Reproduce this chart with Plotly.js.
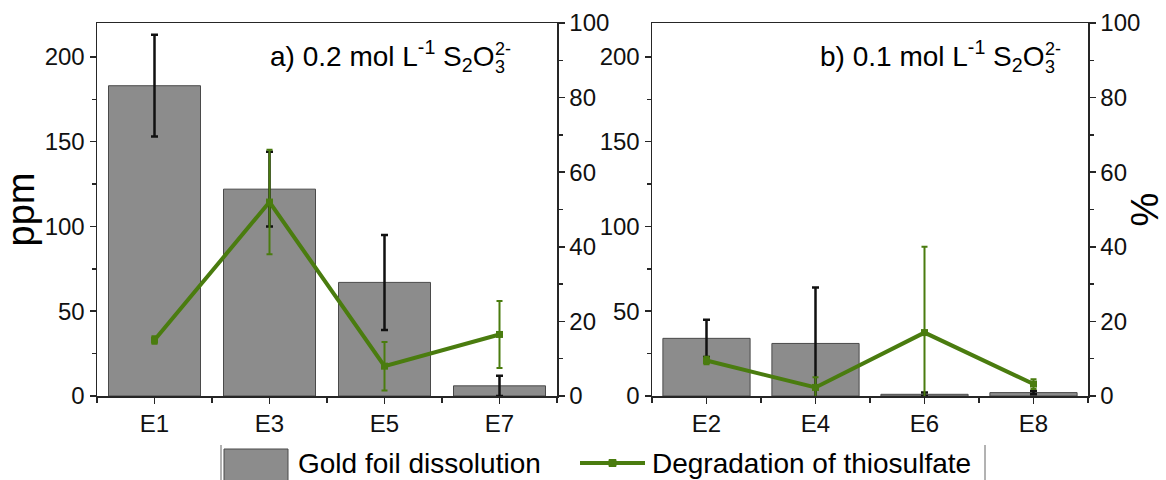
<!DOCTYPE html>
<html>
<head>
<meta charset="utf-8">
<script src="https://cdn.plot.ly/plotly-3.0.1.min.js"></script>
<style>
  html, body { margin: 0; padding: 0; background: #fff; }
  #chart { width: 1166px; height: 480px; }
</style>
</head>
<body>
<div id="chart"></div>
<script>
// Panel a) 0.2 mol/L thiosulfate
const leftCats = ['E1', 'E3', 'E5', 'E7'];
const leftGold = [183, 122, 67, 6];          // ppm
const leftGoldErr = [30, 22, 28, 6];
const leftDeg = [15, 52, 8, 16.5];           // %
const leftDegErr = [1, 14, 6.5, 9];

// Panel b) 0.1 mol/L thiosulfate
const rightCats = ['E2', 'E4', 'E6', 'E8'];
const rightGold = [34, 31, 1, 2];
const rightGoldErr = [11, 33, 1, 1];
const rightDeg = [9.5, 2.3, 17, 3.2];
const rightDegErr = [1, 2.7, 23, 1.3];

const ppmTicks = [0, 50, 100, 150, 200];
const pctTicks = [0, 20, 40, 60, 80, 100];

const W = 1166, H = 480;
const px = v => v / W;
const py = v => 1 - v / H;

const GRAY = '#8c8c8c';
const GREEN = '#4a7c0f';
const AXIS = '#262626';
const FONT = 'Liberation Sans, Arial, sans-serif';

const idx = cats => cats.map((c, i) => i);

function goldTrace(cats, vals, errs, xa, ya) {
  return {
    type: 'bar', x: idx(cats), y: vals, xaxis: xa, yaxis: ya,
    width: 0.8, name: 'Gold foil dissolution', showlegend: false,
    marker: { color: GRAY, line: { color: '#4a4a4a', width: 1 } },
    error_y: { type: 'data', array: errs, visible: true, color: '#111', thickness: 2.5, width: 3.5 },
    hoverinfo: 'y'
  };
}
function degTrace(cats, vals, errs, xa, ya) {
  return {
    type: 'scatter', mode: 'lines+markers', x: idx(cats), y: vals, xaxis: xa, yaxis: ya,
    name: 'Degradation of thiosulfate', showlegend: false, cliponaxis: true,
    line: { color: GREEN, width: 4 },
    marker: { symbol: 'square', size: 7, color: GREEN },
    error_y: { type: 'data', array: errs, visible: true, color: GREEN, thickness: 2, width: 3 },
    hoverinfo: 'y'
  };
}

const data = [
  goldTrace(leftCats, leftGold, leftGoldErr, 'x', 'y'),
  degTrace(leftCats, leftDeg, leftDegErr, 'x', 'y2'),
  goldTrace(rightCats, rightGold, rightGoldErr, 'x2', 'y3'),
  degTrace(rightCats, rightDeg, rightDegErr, 'x2', 'y4')
];

const tickFont = { family: FONT, size: 24, color: '#111' };
const yDom = [py(396), py(23)];
const domA = [px(97), px(557)];
const domB = [px(652), px(1088)];

function catAxis(cats, dom, anchor) {
  return {
    domain: dom, anchor: anchor, range: [-0.5, cats.length - 0.5],
    tickmode: 'array', tickvals: idx(cats), ticktext: cats,
    ticks: 'outside', ticklen: 6, tickwidth: 1.5, tickcolor: AXIS,
    minor: { tickmode: 'linear', tick0: -0.5, dtick: 1, ticks: 'outside', ticklen: 5, tickwidth: 1.5, tickcolor: AXIS },
    showline: true, linecolor: AXIS, linewidth: 1.5, mirror: true,
    showgrid: false, zeroline: false, tickfont: tickFont, fixedrange: true
  };
}
function topTicks(cats, over, anchor) {
  return {
    overlaying: over, anchor: anchor, side: 'top', range: [-0.5, cats.length - 0.5],
    tickmode: 'linear', tick0: -0.5, dtick: 0.5,
    ticks: 'inside', ticklen: 5, tickwidth: 1.5, tickcolor: AXIS,
    showticklabels: false, showline: false, showgrid: false, zeroline: false, fixedrange: true
  };
}
function ppmAxis(anchor, withTitle) {
  const ax = {
    domain: yDom, anchor: anchor, range: [0, 220],
    tickmode: 'array', tickvals: ppmTicks,
    ticks: 'outside', ticklen: 6, tickwidth: 1.5, tickcolor: AXIS,
    minor: { tickmode: 'linear', tick0: 25, dtick: 50, ticks: 'outside', ticklen: 4, tickwidth: 1.5, tickcolor: AXIS },
    showline: true, linecolor: AXIS, linewidth: 1.5,
    showgrid: false, zeroline: false, tickfont: tickFont, fixedrange: true
  };
  if (withTitle) ax.title = { text: 'ppm', font: { family: FONT, size: 38, color: '#000' }, standoff: 2 };
  return ax;
}
function pctAxis(over, anchor, withTitle) {
  const ax = {
    overlaying: over, anchor: anchor, side: 'right', range: [0, 100],
    tickmode: 'array', tickvals: pctTicks,
    ticks: 'outside', ticklen: 6, tickwidth: 1.5, tickcolor: AXIS,
    minor: { tickmode: 'linear', tick0: 10, dtick: 20, ticks: 'outside', ticklen: 4, tickwidth: 1.5, tickcolor: AXIS },
    showline: true, linecolor: AXIS, linewidth: 1.5,
    showgrid: false, zeroline: false, tickfont: tickFont, fixedrange: true
  };
  if (withTitle) ax.title = { text: '%', font: { family: FONT, size: 38, color: '#000' }, standoff: 6 };
  return ax;
}

const annFont = sz => ({ family: FONT, size: sz, color: '#000' });
// concentration label; the ion charge and subscript are stacked after the O
function concLabel(prefix, xRight, yMid) {
  return [
    { text: prefix + ' mol L<sup>-1</sup> S<sub>2</sub>O', xref: 'paper', yref: 'paper',
      x: px(xRight), y: py(yMid), xanchor: 'right', yanchor: 'middle', showarrow: false, font: annFont(28) },
    { text: '2-', xref: 'paper', yref: 'paper', x: px(xRight - 2), y: py(yMid - 7), borderpad: 0,
      xanchor: 'left', yanchor: 'middle', showarrow: false, font: annFont(18) },
    { text: '3', xref: 'paper', yref: 'paper', x: px(xRight - 2), y: py(yMid + 11), borderpad: 0,
      xanchor: 'left', yanchor: 'middle', showarrow: false, font: annFont(18) }
  ];
}

const annotations = [
  ...concLabel('a) 0.2', 496, 56),
  ...concLabel('b) 0.1', 1046, 56),
  { text: 'Gold foil dissolution', xref: 'paper', yref: 'paper', x: px(296), y: py(463),
    xanchor: 'left', yanchor: 'middle', showarrow: false, font: annFont(28) },
  { text: 'Degradation of thiosulfate', xref: 'paper', yref: 'paper', x: px(650), y: py(463),
    xanchor: 'left', yanchor: 'middle', showarrow: false, font: annFont(28) }
];

// legend key drawn as shapes
const shapes = [
  { type: 'line', xref: 'paper', yref: 'paper', x0: px(221), x1: px(221), y0: py(445), y1: py(482),
    line: { color: '#666', width: 1 } },
  { type: 'line', xref: 'paper', yref: 'paper', x0: px(985), x1: px(985), y0: py(445), y1: py(482),
    line: { color: '#666', width: 1 } },
  { type: 'rect', xref: 'paper', yref: 'paper', x0: px(224), x1: px(288), y0: py(449), y1: py(482),
    fillcolor: GRAY, line: { color: '#4a4a4a', width: 1 } },
  { type: 'line', xref: 'paper', yref: 'paper', x0: px(580), x1: px(645), y0: py(463), y1: py(463),
    line: { color: GREEN, width: 4 } },
  { type: 'rect', xref: 'paper', yref: 'paper', x0: px(609), x1: px(616), y0: py(459.5), y1: py(466.5),
    fillcolor: GREEN, line: { color: GREEN, width: 1 } }
];

const layout = {
  width: W, height: H,
  margin: { l: 0, r: 0, t: 0, b: 0, pad: 0 },
  paper_bgcolor: '#fff', plot_bgcolor: '#fff',
  showlegend: false, bargap: 0.2,
  font: { family: FONT, color: '#111' },
  xaxis: catAxis(leftCats, domA, 'y'),
  xaxis2: catAxis(rightCats, domB, 'y3'),
  xaxis3: topTicks(leftCats, 'x', 'y'),
  xaxis4: topTicks(rightCats, 'x2', 'y3'),
  yaxis: ppmAxis('x', true),
  yaxis2: pctAxis('y', 'x', false),
  yaxis3: ppmAxis('x2', false),
  yaxis4: pctAxis('y3', 'x2', true),
  annotations: annotations,
  shapes: shapes
};

Plotly.newPlot('chart', data, layout, { displayModeBar: false, staticPlot: true });
</script>
</body>
</html>
